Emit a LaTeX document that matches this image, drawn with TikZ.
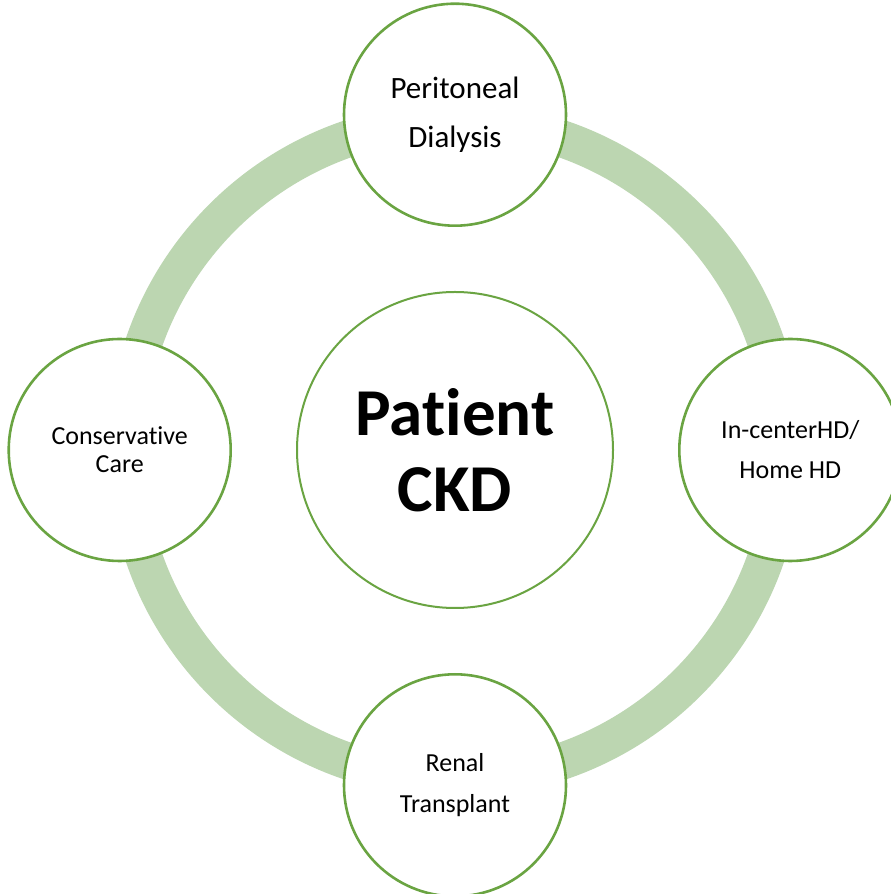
\documentclass[tikz,border=0pt]{standalone}
\usepackage{fontspec}
\setmainfont[Ligatures=NoCommon]{Carlito}
\usepackage{tikz}
\usetikzlibrary{positioning}
\definecolor{ringgreen}{RGB}{188,214,177}
\definecolor{edgegreen}{RGB}{106,164,66}
\tikzset{
  option/.style={draw=edgegreen, fill=white, circle, line width=2.6pt,
    minimum size=222pt, inner sep=0pt, align=center,
    font=\fontsize{26}{41}\selectfont},
}

\begin{document}
\begin{tikzpicture}[x=1pt, y=1pt, node distance=64pt]
          \useasboundingbox (0,0) rectangle (891,894);
          \node[option, minimum size=316pt, line width=2pt,
            font=\fontsize{67}{76}\selectfont\bfseries] (ckd) at (455,444) {Patient\\CKD};
          \draw[ringgreen, line width=37pt] (ckd.center) circle (329);
          \node[above=of ckd, option, font=\fontsize{31}{49}\selectfont] (pd) {Peritoneal\\Dialysis};
          \node[right=of ckd, option, font=\fontsize{26}{40}\selectfont] (hd) {In-centerHD/\\Home HD};
          \node[left=of ckd, option, font=\fontsize{26}{28}\selectfont] (cc) {Conservative\\Care};
          \node[below=of ckd, option] (rt) {Renal\\Transplant};
        \end{tikzpicture}
\end{document}
